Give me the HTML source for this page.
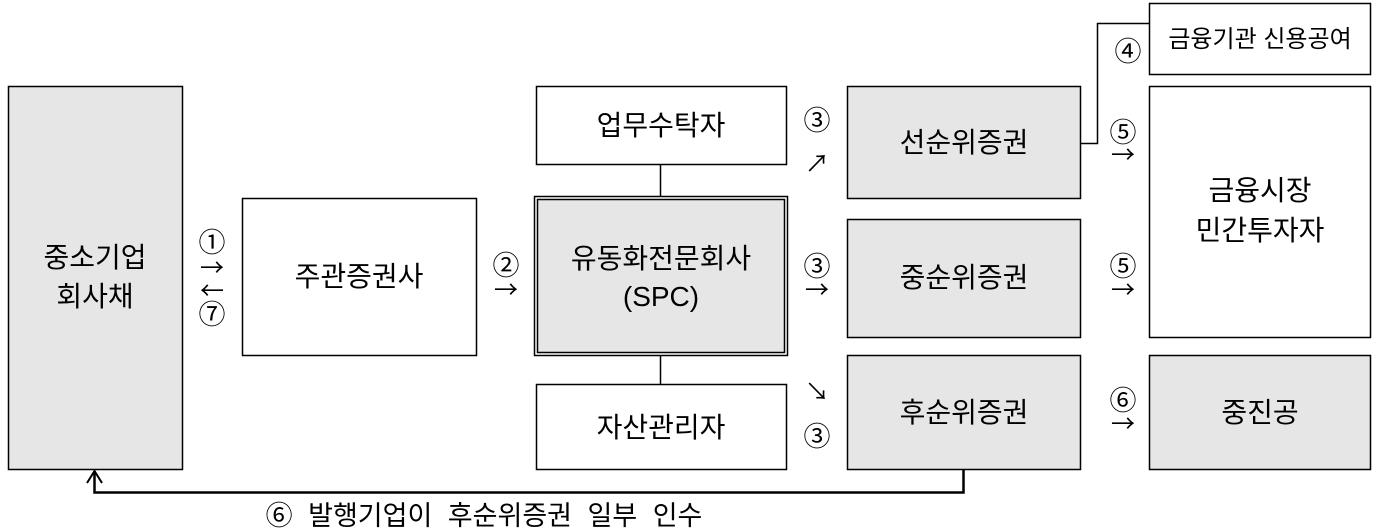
<!DOCTYPE html>
<html><head><meta charset="utf-8"><style>
html,body{margin:0;padding:0;background:#fff;}
svg{display:block}
text{font-family:"Liberation Sans","Noto Sans CJK KR",sans-serif;fill:#000;}
.b{font-size:28px;text-anchor:middle;}
.s{font-size:24px;text-anchor:middle;}
.c{font-family:"Noto Sans CJK KR",sans-serif;font-size:27px;text-anchor:middle;}
.a{font-family:"Noto Sans CJK KR",sans-serif;font-size:24px;text-anchor:middle;}
</style></head><body>
<svg width="1376" height="532" viewBox="0 0 1376 532" xmlns="http://www.w3.org/2000/svg">
<g stroke="#000" stroke-width="1.5">
<rect x="8.5" y="86.5" width="174" height="383" fill="#e6e6e6"/>
<rect x="242.5" y="198.5" width="234" height="157" fill="#fff"/>
<rect x="534.5" y="196.5" width="253" height="159" fill="#fff"/>
<rect x="537.5" y="199.5" width="247" height="153" fill="#e6e6e6"/>
<rect x="536.5" y="86.5" width="250" height="78" fill="#fff"/>
<rect x="536.5" y="384.5" width="250" height="85" fill="#fff"/>
<line x1="660.5" y1="164" x2="660.5" y2="196"/>
<line x1="660.5" y1="355" x2="660.5" y2="384"/>
<rect x="847.5" y="86.5" width="233" height="112" fill="#e6e6e6"/>
<rect x="847.5" y="219.5" width="233" height="118" fill="#e6e6e6"/>
<rect x="847.5" y="355.5" width="233" height="114" fill="#e6e6e6"/>
<rect x="1149.5" y="3.5" width="221" height="71" fill="#fff"/>
<rect x="1149.5" y="86.5" width="221" height="251" fill="#fff"/>
<rect x="1149.5" y="355.5" width="221" height="114" fill="#e6e6e6"/>
<polyline points="1080,143.5 1097.5,143.5 1097.5,23.5 1149,23.5" fill="none"/>
<polyline points="963.5,469 963.5,492.5 94.5,492.5 94.5,471" fill="none" stroke-width="2.5"/>
<polyline points="87,483 94.5,471 102,483" fill="none" stroke-width="2"/>
</g>
<text class="b" x="95" y="267">중소기업</text>
<text class="b" x="95" y="306">회사채</text>
<text class="b" x="359" y="286">주관증권사</text>
<text class="b" x="661" y="268">유동화전문회사</text>
<text class="b" x="661" y="306">(SPC)</text>
<text class="b" x="661" y="135">업무수탁자</text>
<text class="b" x="661" y="437">자산관리자</text>
<text class="b" x="964" y="152">선순위증권</text>
<text class="b" x="964" y="287">중순위증권</text>
<text class="b" x="964" y="422">후순위증권</text>
<text class="s" x="1260" y="47">금융기관 신용공여</text>
<text class="b" x="1260" y="200">금융시장</text>
<text class="b" x="1260" y="240">민간투자자</text>
<text class="b" x="1260" y="422">중진공</text>
<text class="c" x="212" y="252">①</text>
<text class="a" x="212" y="276">→</text>
<text class="a" x="212" y="299">←</text>
<text class="c" x="212" y="324">⑦</text>
<text class="c" x="506" y="275">②</text>
<text class="a" x="506" y="298">→</text>
<text class="c" x="817" y="130">③</text>
<text class="a" x="817" y="172">↗</text>
<text class="c" x="817" y="276">③</text>
<text class="a" x="817" y="298">→</text>
<text class="a" x="817" y="400">↘</text>
<text class="c" x="817" y="446">③</text>
<text class="c" x="1128" y="61">④</text>
<text class="c" x="1123" y="142">⑤</text>
<text class="a" x="1123" y="163">→</text>
<text class="c" x="1123" y="276">⑤</text>
<text class="a" x="1123" y="298">→</text>
<text class="c" x="1123" y="410">⑥</text>
<text class="a" x="1123" y="432">→</text>
<text x="484" y="525" style="font-size:27px;text-anchor:middle;word-spacing:8px">⑥  발행기업이 후순위증권 일부 인수</text>
</svg>
</body></html>
